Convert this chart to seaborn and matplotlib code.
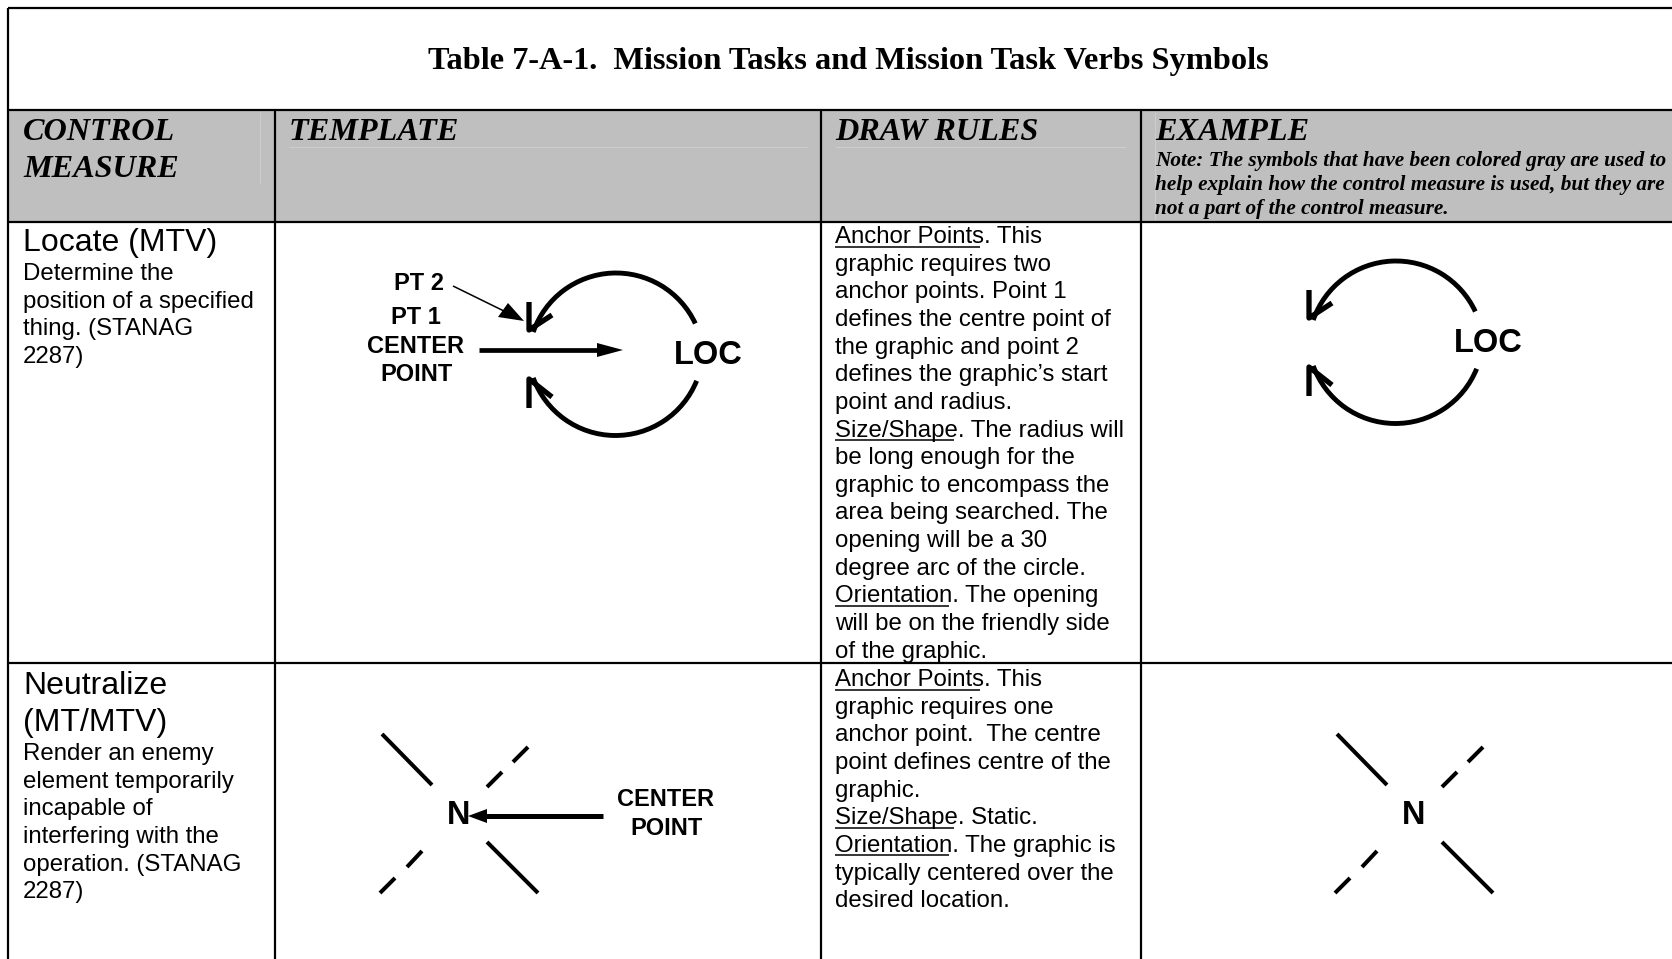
"""
Table 7-A-1 page rebuilt as a pixel-space axes: grid, header band, text and the two symbols.
"""
import matplotlib
matplotlib.use("Agg")
import matplotlib.pyplot as plt
from matplotlib.patches import Arc, Rectangle
import seaborn as sns

W, H = 1672, 959

# ── text ─────────────────────────────────────────────────
title = "Table 7-A-1.  Mission Tasks and Mission Task Verbs Symbols"
headers = ["CONTROL\nMEASURE", "TEMPLATE", "DRAW RULES", "EXAMPLE"]
note_lines = ["Note: The symbols that have been colored gray are used to",
              "help explain how the control measure is used, but they are",
              "not a part of the control measure."]
name_1 = ["Locate (MTV)"]
desc_1 = ["Determine the", "position of a specified", "thing. (STANAG", "2287)"]
name_2 = ["Neutralize", "(MT/MTV)"]
desc_2 = ["Render an enemy", "element temporarily", "incapable of", "interfering with the",
          "operation. (STANAG", "2287)"]
rules_1 = ["Anchor Points. This", "graphic requires two", "anchor points. Point 1",
           "defines the centre point of", "the graphic and point 2",
           "defines the graphic\u2019s start", "point and radius.",
           "Size/Shape. The radius will", "be long enough for the",
           "graphic to encompass the", "area being searched. The",
           "opening will be a 30", "degree arc of the circle.",
           "Orientation. The opening", "will be on the friendly side",
           "of the graphic."]
rules_2 = ["Anchor Points. This", "graphic requires one", "anchor point.  The centre",
           "point defines centre of the", "graphic.", "Size/Shape. Static.",
           "Orientation. The graphic is", "typically centered over the",
           "desired location."]
underlined = ["Anchor Points", "Size/Shape", "Orientation"]

# ── grid (pixels of the page) ────────────────────────────
col_x = [8, 275, 821, 1141]
row_y = [8, 110, 222, 663]
col_text_x = [23, 289, 835, 1155]

# ── symbol geometry ──────────────────────────────────────
tick_tl = ([382, 432], [734, 785])
tick_br = ([487, 538], [842, 893])
dash_tr = [([528, 513], [747, 762]), ([502, 487], [772, 787])]
dash_bl = [([422, 407], [851, 867]), ([395, 380], [878, 893])]

sns.set_theme(style="white")
plt.rcParams["font.family"] = ["Liberation Sans", "DejaVu Sans"]

fig = plt.figure(figsize=(W / 100, H / 100), dpi=100)
ax = fig.add_axes([0, 0, 1, 1])
ax.set_axis_off()


def stroke(xs, ys, lw, color="black", cap="butt"):
    sns.lineplot(x=xs, y=ys, sort=False, estimator=None, color=color, linewidth=lw,
                 solid_capstyle=cap, ax=ax, legend=False)


def write(x, y, s, size=17.3, ha="left", **kw):
    return ax.text(x, y, s, fontsize=size, ha=ha, va="baseline", color="black", **kw)


def body(x, y, lines, step=27.65):
    renderer = fig.canvas.get_renderer()
    for i, line in enumerate(lines):
        yy = y + i * step
        write(x, yy, line)
        for u in underlined:
            if line.startswith(u):
                t = write(x, yy, u, alpha=0)
                x1 = t.get_window_extent(renderer).x1
                stroke([x, x1], [yy + 3.5, yy + 3.5], 1.1)


# ── header band and grid ─────────────────────────────────
ax.add_patch(Rectangle((col_x[0], row_y[1]), W - col_x[0], row_y[2] - row_y[1],
                       facecolor="#BFBFBF", edgecolor="none", zorder=0))
stroke([260, 260], [112, 184], 0.6, "#D0D0D0")
stroke([289, 807], [147, 147], 0.6, "#D0D0D0")
stroke([835, 1125], [147, 147], 0.6, "#D0D0D0")
stroke([1155, 1155], [112, 220], 0.6, "#D0D0D0")

for y in row_y:
    stroke([col_x[0], W], [y, y], 1.6)
stroke([col_x[0], col_x[0]], [row_y[0], H], 1.6)
for x in col_x[1:]:
    stroke([x, x], [row_y[1], H], 1.6)

# ── title and header text ────────────────────────────────
serif = ["Liberation Serif", "DejaVu Serif"]
write(848, 69, title, size=23.3, ha="center", family=serif, weight="bold")
write(col_text_x[0], 140, headers[0].split("\n")[0], size=23.2, family=serif, weight="bold", style="italic")
write(col_text_x[0], 177, headers[0].split("\n")[1], size=23.2, family=serif, weight="bold", style="italic")
for x, s in zip(col_text_x[1:], headers[1:]):
    write(x, 140, s, size=23.2, family=serif, weight="bold", style="italic")
for y, s in zip([166, 190, 214], note_lines):
    write(col_text_x[3], y, s, size=15.35, family=serif, weight="bold", style="italic")

# ── first two columns of text ────────────────────────────
write(col_text_x[0], 251, name_1[0], size=23)
body(col_text_x[0], 280, desc_1)
body(col_text_x[2], 243, rules_1)

write(col_text_x[0], 694, name_2[0], size=23)
write(col_text_x[0], 731, name_2[1], size=23)
body(col_text_x[0], 760, desc_2)
body(col_text_x[2], 686, rules_2)


# ── symbols ──────────────────────────────────────────────
def loc_symbol(dx, dy):
    ax.add_patch(Arc((616 + dx, 360.5 + dy), 175, 175, theta1=-161, theta2=-25, lw=3.5, color="black"))
    ax.add_patch(Arc((615.5 + dx, 348 + dy), 175, 175, theta1=22, theta2=160, lw=3.5, color="black"))
    stroke([529 + dx, 529 + dx, 552 + dx], [302 + dy, 330 + dy, 315 + dy], 3.8)
    stroke([529 + dx, 529 + dx, 552 + dx], [408 + dy, 379 + dy, 397 + dy], 3.8)
    write(708 + dx, 352 + dy + 11.5, "LOC", size=23.5, ha="center", weight="bold")


def neutralize_symbol(dx):
    for xs, ys in [tick_tl, tick_br] + dash_tr + dash_bl:
        stroke([v + dx for v in xs], ys, 2.9)
    write(459 + dx, 824.5, "N", size=23.5, ha="center", weight="bold")


loc_symbol(0, 0)
loc_symbol(780, -12)
neutralize_symbol(0)
neutralize_symbol(955)

# template labels and pointers
for s, x, y in [("PT 2", 419, 290), ("PT 1", 416, 324), ("CENTER", 416, 353), ("POINT", 416, 381),
                ("CENTER", 666, 806), ("POINT", 666, 835)]:
    write(x, y, s, size=17, ha="center", weight="bold")

stroke([479, 600], [350, 350], 3.4)
ax.fill([623, 597, 597], [350, 343, 357], color="black", lw=0)
stroke([453, 510], [286, 314], 1.1)
ax.fill([524, 508, 498], [321, 303, 317], color="black", lw=0)
stroke([603, 485], [816, 816], 3.6)
ax.fill([468, 487, 487], [816, 809, 823], color="black", lw=0)

ax.set_xlim(0, W)
ax.set_ylim(H, 0)
fig.savefig("out.png", dpi=100, facecolor="white")
